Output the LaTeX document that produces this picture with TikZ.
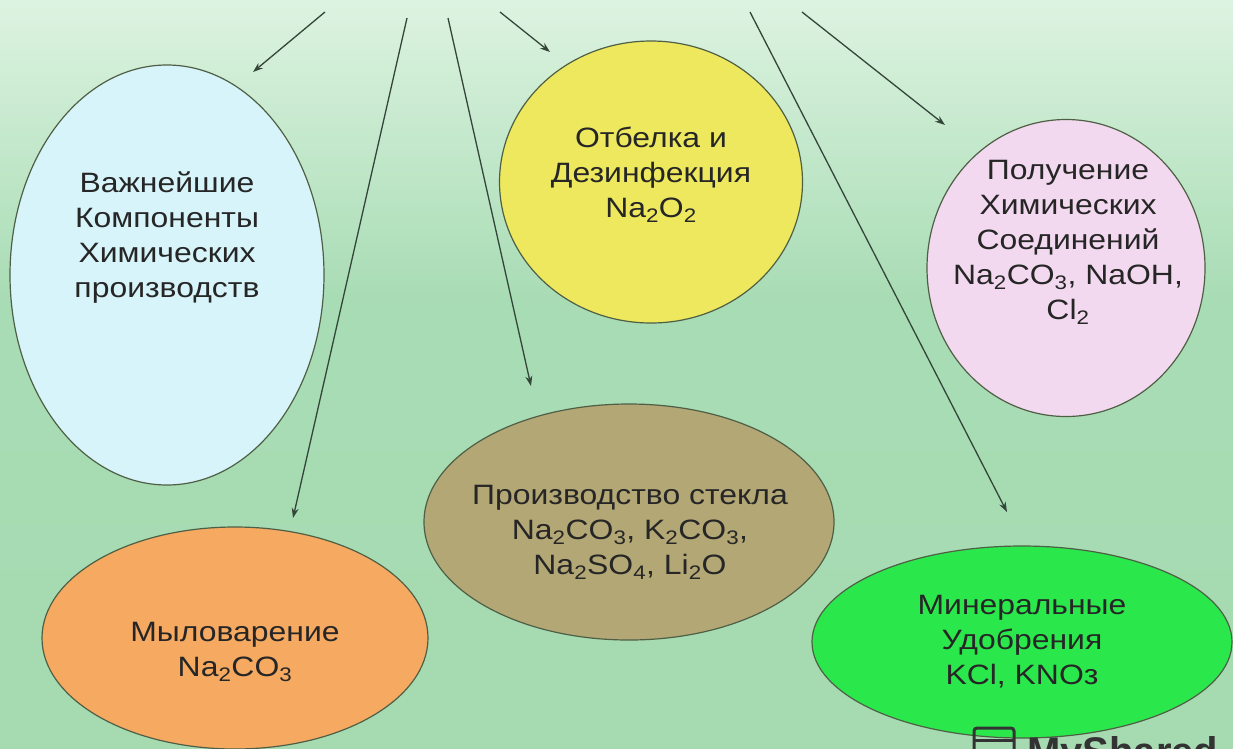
\documentclass[tikz,border=0pt]{standalone}
\usepackage{fontspec}
\setmainfont{Liberation Sans}[FakeStretch=1.14]
\newfontfamily\wmfont{Liberation Sans}
\usetikzlibrary{shapes.geometric,arrows.meta}
\definecolor{bgtop}{HTML}{DDF3E1}
\definecolor{bgmid}{HTML}{A8DCB4}
\definecolor{bgbot}{HTML}{A6DBB2}
\definecolor{bglight}{HTML}{C4E9CC}
\definecolor{cblue}{HTML}{D6F4F9}
\definecolor{cyellow}{HTML}{EEE85E}
\definecolor{cpink}{HTML}{F3D9EF}
\definecolor{colive}{HTML}{B3A775}
\definecolor{corange}{HTML}{F5A961}
\definecolor{cgreen}{HTML}{2AE84C}
\definecolor{cedge}{HTML}{4F5F45}
\definecolor{carrow}{HTML}{34453A}
\tikzset{
  blob/.style={ellipse, draw=cedge, line width=1.2pt, inner sep=0pt},
  lbl/.style={align=center, text=black!85, font=\fontsize{28}{35}\selectfont, inner sep=0pt},
  conn/.style={draw=carrow, line width=1.3pt, -{Stealth[length=10pt,width=7pt]}},
  wm/.style={text=black!80, font=\wmfont\bfseries\fontsize{40}{40}\selectfont, inner sep=0pt, anchor=north west}
}
\begin{document}
\begin{tikzpicture}[x=1pt,y=-1pt]
\useasboundingbox (0,0) rectangle (1233,748);
\shade[top color=bgtop, bottom color=bgmid] (0,0) rectangle (1233,300);
\shade[top color=bgmid, bottom color=bgbot] (0,300) rectangle (1233,748);
\shade[top color=bgmid, middle color=bglight, bottom color=bgmid] (0,370) rectangle (1233,450);
\shade[top color=bgbot, middle color=bglight, bottom color=bgbot] (0,570) rectangle (1233,640);

% ellipses
\node[blob, fill=cblue, minimum width=314pt, minimum height=420pt] (e1) at (167,275) {};
\node[blob, fill=cyellow, minimum width=303pt, minimum height=282pt] (e2) at (651,182) {};
\node[blob, fill=cpink, minimum width=278pt, minimum height=297pt] (e3) at (1066,268) {};
\node[blob, fill=colive, minimum width=410pt, minimum height=236pt] (e4) at (629,522) {};
\node[blob, fill=corange, minimum width=386pt, minimum height=222pt] (e5) at (235,638) {};
\node[blob, fill=cgreen, minimum width=420pt, minimum height=192pt] (e6) at (1022,642) {};

% labels
\node[lbl] (l1) at (167,238) {Важнейшие\\Компоненты\\Химических\\производств};
\node[lbl] (l2) at (651,175) {Отбелка и\\Дезинфекция\\Na\textsubscript{2}O\textsubscript{2}};
\node[lbl] (l3) at (1068,242) {Получение\\Химических\\Соединений\\Na\textsubscript{2}CO\textsubscript{3}, NaOH,\\Cl\textsubscript{2}};
\node[lbl] (l4) at (630,532) {Производство стекла\\Na\textsubscript{2}CO\textsubscript{3}, K\textsubscript{2}CO\textsubscript{3},\\Na\textsubscript{2}SO\textsubscript{4}, Li\textsubscript{2}O};
\node[lbl] (l5) at (235,652) {Мыловарение\\Na\textsubscript{2}CO\textsubscript{3}};
\node[lbl] (l6) at (1022,642) {Минеральные\\Удобрения\\KCl, KNOз};

% connector ends
\coordinate (s1) at (325,12);  \coordinate (t1) at (253,72);
\coordinate (s2) at (407,18);  \coordinate (t2) at (293,518);
\coordinate (s3) at (448,18);  \coordinate (t3) at (531,386);
\coordinate (s4) at (500,12);  \coordinate (t4) at (550,52);
\coordinate (s5) at (750,12);  \coordinate (t5) at (1007,512);
\coordinate (s6) at (802,12);  \coordinate (t6) at (945,125);
\draw[conn] (s1) -- (t1);
\draw[conn] (s2) -- (t2);
\draw[conn] (s3) -- (t3);
\draw[conn] (s4) -- (t4);
\draw[conn] (s5) -- (t5);
\draw[conn] (s6) -- (t6);

% watermark (cut off by the frame, as in the reference)
\begin{scope}
\clip (0,0) rectangle (1233,748);
\node[wm] (wm) at (1027,736) {MyShared};
\draw[black!80, line width=3pt, rounded corners=3pt] (974,728) rectangle (1014,770);
\draw[black!80, line width=3pt] (974,740) -- (1014,740);
\end{scope}
\end{tikzpicture}
\end{document}
